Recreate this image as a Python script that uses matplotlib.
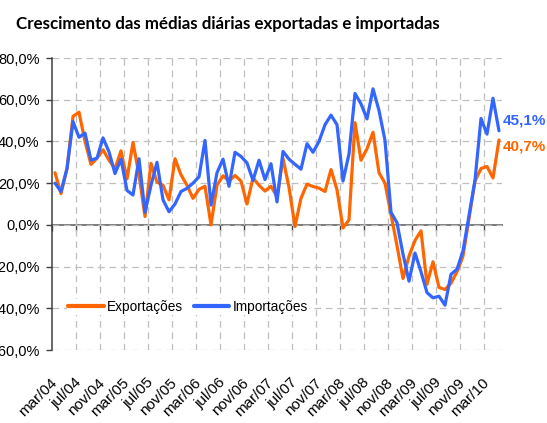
import matplotlib
matplotlib.use("Agg")
import matplotlib.pyplot as plt
import numpy as np
from matplotlib.ticker import FuncFormatter

plt.rcParams['lines.scale_dashes'] = False
plt.rcParams['font.family'] = ['Liberation Sans', 'DejaVu Sans']

# ---------------- data ----------------
month_names = ['jan', 'fev', 'mar', 'abr', 'mai', 'jun', 'jul', 'ago', 'set', 'out', 'nov', 'dez']
categories = []
for k in range(75):
    m = (2 + k) % 12
    y = 4 + (2 + k) // 12
    categories.append(f"{month_names[m]}/{y:02d}")

exports = [
    25, 15, 27, 52, 54, 40, 29, 32, 36, 31,
    27, 35.5, 22, 39.5, 24, 4, 29.5, 20.5, 19, 12,
    31.7, 24, 19, 12.7, 17, 18.5, 0, 19, 23.5, 21,
    23.7, 21, 10, 22.5, 19, 16.2, 18.5, 13.5, 31.8, 18,
    -0.8, 12.8, 19.5, 18.4, 17.6, 16, 26.5, 16.8, -1.5, 2.4,
    49, 31, 36.5, 44.4, 25, 20, 5, -10, -25.7, -15,
    -7.5, -2.9, -28.5, -17.7, -30, -31, -28, -22.5, -15, 3,
    21, 27, 28, 22.5, 40.7,
]
imports = [
    20, 16, 27, 49.5, 42, 44, 31, 32, 41.7, 35,
    24.6, 31.5, 16.5, 14.3, 31.7, 6, 19, 30, 12, 6.3,
    10, 16, 17.5, 20, 23, 40.5, 9.5, 25, 31.5, 18.5,
    34.8, 32.8, 29.7, 21.3, 31, 21.7, 29.3, 11, 35.2, 31.5,
    29, 26.7, 38.9, 34.8, 40, 48, 52.6, 48, 21, 34,
    63, 58, 50.8, 65.2, 54.8, 40.5, 6, 1, -14, -27,
    -13.5, -22.5, -32.5, -35, -34.2, -38.5, -23.7, -21.3, -12.5, 4.5,
    21.5, 51, 43.5, 60.7, 45.1,
]
series_names = ['Exportações', 'Importações']
title = 'Crescimento das médias diárias exportadas e importadas'

ORANGE = '#FF6600'
BLUE = '#3366FF'
GRID = '#BFBFBF'

W, H = 547, 423
fig = plt.figure(figsize=(W / 100, H / 100), dpi=100)
ax = fig.add_axes([52 / W, 1 - 350 / H, 450 / W, 292 / H])

n = len(categories)
x = np.arange(n)
ax.plot(x, exports, color=ORANGE, lw=2.3, solid_joinstyle='round',
        solid_capstyle='round', label=series_names[0], zorder=3)
ax.plot(x, imports, color=BLUE, lw=2.3, solid_joinstyle='round',
        solid_capstyle='round', label=series_names[1], zorder=4)

ymin, ymax = -60, 80
ax.set_xlim(-0.5, n - 0.5)
ax.set_ylim(ymin, ymax)

# y axis
ax.set_yticks(np.arange(ymin, ymax + 1, 20))
ax.yaxis.set_major_formatter(FuncFormatter(lambda v, p: f"{v:.1f}%".replace('.', ',')))
ax.tick_params(axis='y', direction='out', length=4, width=1, color='#404040',
               labelsize=10.5, pad=5)

# x axis labels (every 4 months)
ax.set_xticks(x[::4])
ax.set_xticklabels(categories[::4], rotation=45, ha='right', va='center',
                   rotation_mode='anchor', fontsize=11)
ax.tick_params(axis='x', which='major', length=0, pad=22)
ax.set_xticks(np.arange(3.5, n - 0.5, 4), minor=True)
ax.tick_params(axis='x', which='minor', length=0)

ax.grid(axis='y', which='major', color=GRID, lw=0.9, linestyle=(0, (4.8, 3.4)))
ax.grid(axis='x', which='minor', color=GRID, lw=0.9, linestyle=(0, (4.8, 3.4)))
ax.set_axisbelow(True)

for s in ['top', 'right', 'bottom']:
    ax.spines[s].set_visible(False)
ax.spines['left'].set_color('#404040')
ax.spines['left'].set_linewidth(1.1)

# zero line with tick marks
zero_pos = (0 - ymin) / (ymax - ymin)
sec = ax.secondary_xaxis(zero_pos)
sec.set_xticks(np.arange(-0.5, n - 0.5, 4))
sec.tick_params(axis='x', direction='out', length=4, width=1, color='#404040',
                labelbottom=False, labeltop=False)
for s in sec.spines.values():
    s.set_color('#707070')
    s.set_linewidth(1.3)

# legend
leg = ax.legend(loc='center left', bbox_to_anchor=(0.033, 0.147), ncol=2,
                frameon=True, facecolor='white', edgecolor='none', framealpha=1,
                fontsize=9.8, handlelength=2.6, handletextpad=0.25,
                columnspacing=0.8, borderpad=0.1, borderaxespad=0)
for l in leg.get_lines():
    l.set_linewidth(3.0)

# end labels
ax.text(n - 0.45, 49.8, f"{imports[-1]:.1f}%".replace('.', ','), color=BLUE,
        fontsize=11, fontweight='bold', ha='left', va='center', clip_on=False)
ax.text(n - 0.45, 37.8, f"{exports[-1]:.1f}%".replace('.', ','), color=ORANGE,
        fontsize=11, fontweight='bold', ha='left', va='center', clip_on=False)

# title, fitted to the reference width
t = fig.text(16 / W, 1 - 29.3 / H, title, fontsize=13, fontweight='bold',
             family=['Lato', 'DejaVu Sans'], ha='left', va='baseline')
r = fig.canvas.get_renderer()
wpx = t.get_window_extent(renderer=r).width
t.set_fontsize(13 * 424 / wpx)

fig.savefig('out.png', dpi=100)
